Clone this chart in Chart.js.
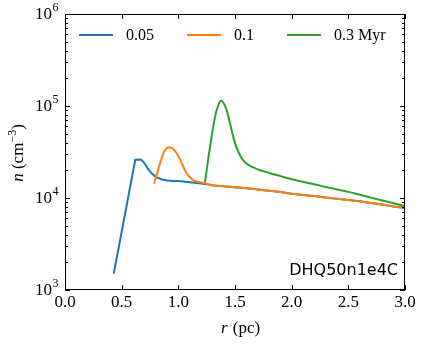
<!DOCTYPE html>
<html>
<head>
<meta charset="utf-8">
<script src="https://cdn.jsdelivr.net/npm/chart.js@4/dist/chart.umd.min.js"></script>
<style>
html,body{margin:0;padding:0;background:#fff;}
canvas{display:block;}
</style>
</head>
<body>
<canvas id="c" width="425" height="346"></canvas>
<script>
// ---- data ----
const seriesLabels = ["0.05", "0.1", "0.3 Myr"];
const r005 = [0.43,0.62,0.67,0.70,0.73,0.76,0.80,0.85,0.90,0.95,1.00,1.10,1.20,1.30,1.40,1.50,1.60,1.70,1.80,1.90,2.00,2.10,2.20,2.30,2.40,2.50,2.60,2.70,2.80,2.90,3.00];
const n005 = [1500,26000,26200,24000,21000,18800,17000,16000,15500,15300,15300,14800,14400,13800,13400,13100,12800,12400,12000,11600,11100,10800,10500,10100,9800,9500,9200,8800,8500,8100,7800];
const r01 = [0.785,0.81,0.838,0.868,0.89,0.912,0.94,0.965,0.985,1.01,1.03,1.05,1.074,1.10,1.13,1.17,1.22,1.30,1.40,1.50,1.60,1.70,1.80,1.90,2.00,2.10,2.20,2.30,2.40,2.50,2.60,2.70,2.80,2.90,3.00];
const n01 = [14400,18000,23800,30600,34000,35600,35000,33000,30600,27000,23800,21000,18500,16900,15700,15000,14600,13700,13400,13100,12800,12400,12000,11600,11100,10800,10500,10100,9800,9500,9200,8800,8500,8100,7750];
const r03 = [1.235,1.28,1.324,1.35,1.376,1.40,1.426,1.45,1.47,1.49,1.515,1.54,1.56,1.58,1.60,1.632,1.66,1.70,1.81,1.90,2.00,2.10,2.20,2.30,2.40,2.50,2.60,2.70,2.80,2.90,3.00];
const n03 = [14800,36100,76600,100000,114000,108000,90600,70000,54800,43650,35100,29850,26900,25000,23700,22400,21500,20500,18600,17300,16000,15000,14100,13200,12400,11650,10850,10100,9400,8750,8150];
const xTicks = [0.0,0.5,1.0,1.5,2.0,2.5,3.0];
const xTickLabels = ["0.0","0.5","1.0","1.5","2.0","2.5","3.0"];
const yTicks = [1e3,1e4,1e5,1e6];
const yTickExponents = ["3","4","5","6"];
const modelName = "DHQ50n1e4C";

const colors = ["#1f77b4","#ff7f0e","#2ca02c"];
const SERIF = '"Liberation Serif", "DejaVu Serif", serif';

function pts(xs, ys){ return xs.map((x,i)=>({x:x, y:ys[i]})); }

const deco = {
  id: 'deco',
  beforeDraw(chart){
    const ctx = chart.ctx;
    ctx.save(); ctx.fillStyle = '#fff'; ctx.fillRect(0,0,chart.width,chart.height); ctx.restore();
  },
  afterDraw(chart){
    const ctx = chart.ctx, a = chart.chartArea, xs = chart.scales.x, ys = chart.scales.y;
    ctx.save();
    ctx.strokeStyle = '#000'; ctx.lineWidth = 1;
    // ticks (inward)
    ctx.beginPath();
    xTicks.forEach(v=>{
      const px = Math.round(xs.getPixelForValue(v)) + 0.5;
      ctx.moveTo(px, a.bottom); ctx.lineTo(px, a.bottom-5);
      ctx.moveTo(px, a.top); ctx.lineTo(px, a.top+5);
    });
    for (let e=3; e<6; e++){
      for (let m=2; m<10; m++){
        const py = Math.round(ys.getPixelForValue(m*Math.pow(10,e))) + 0.5;
        ctx.moveTo(a.left, py); ctx.lineTo(a.left+3, py);
        ctx.moveTo(a.right, py); ctx.lineTo(a.right-3, py);
      }
    }
    yTicks.forEach(v=>{
      const py = Math.round(ys.getPixelForValue(v)) + 0.5;
      ctx.moveTo(a.left, py); ctx.lineTo(a.left+5, py);
      ctx.moveTo(a.right, py); ctx.lineTo(a.right-5, py);
    });
    ctx.stroke();
    // frame
    ctx.strokeRect(Math.round(a.left)+0.5, Math.round(a.top)+0.5, Math.round(a.right-a.left)-1, Math.round(a.bottom-a.top)-1);

    ctx.fillStyle = '#000';
    // x tick labels
    ctx.font = '17px ' + SERIF;
    ctx.textAlign = 'center'; ctx.textBaseline = 'top';
    xTicks.forEach((v,i)=>{
      ctx.fillText(xTickLabels[i], xs.getPixelForValue(v), a.bottom + 4);
    });
    // y tick labels 10^k
    yTicks.forEach((v,i)=>{
      const py = ys.getPixelForValue(v);
      ctx.font = '17px ' + SERIF;
      ctx.textAlign = 'right'; ctx.textBaseline = 'middle';
      ctx.fillText('10', 52, py + 1);
      ctx.font = '12px ' + SERIF;
      ctx.textAlign = 'left';
      ctx.fillText(yTickExponents[i], 52.5, py - 6);
    });
    // x axis title
    ctx.textBaseline = 'alphabetic';
    ctx.font = 'italic 17px ' + SERIF;
    const t1 = 'r'; const w1 = ctx.measureText(t1).width;
    ctx.font = '17px ' + SERIF;
    const t2 = ' (pc)'; const w2 = ctx.measureText(t2).width;
    let x0 = 240 - (w1+w2)/2;
    ctx.textAlign = 'left';
    ctx.font = 'italic 17px ' + SERIF; ctx.fillText(t1, x0, 333);
    ctx.font = '17px ' + SERIF; ctx.fillText(t2, x0 + w1 + 1, 333);
    // y axis title (rotated)
    ctx.save();
    ctx.translate(23, 153);
    ctx.rotate(-Math.PI/2);
    const parts = [
      {t:'n', f:'italic 17px ' + SERIF, dy:0},
      {t:' (cm', f:'17px ' + SERIF, dy:0},
      {t:'\u22123', f:'12px ' + SERIF, dy:-7},
      {t:')', f:'17px ' + SERIF, dy:0}
    ];
    let tw = 0;
    parts.forEach(p=>{ ctx.font = p.f; p.w = ctx.measureText(p.t).width; tw += p.w; });
    let cx = -tw/2;
    ctx.textAlign = 'left'; ctx.textBaseline = 'alphabetic';
    parts.forEach(p=>{ ctx.font = p.f; ctx.fillText(p.t, cx, p.dy); cx += p.w; });
    ctx.restore();
    // legend
    const legX = [79, 187, 287];
    ctx.lineWidth = 2;
    seriesLabels.forEach((lab,i)=>{
      ctx.strokeStyle = colors[i];
      ctx.beginPath(); ctx.moveTo(legX[i], 35); ctx.lineTo(legX[i]+34, 35); ctx.stroke();
      ctx.fillStyle = '#000';
      ctx.font = '16px ' + SERIF; ctx.textAlign = 'left'; ctx.textBaseline = 'middle';
      ctx.fillText(lab, legX[i] + 47, 36);
    });
    // model name
    ctx.font = '16px "DejaVu Sans", sans-serif';
    ctx.textAlign = 'right'; ctx.textBaseline = 'alphabetic';
    ctx.fillText(modelName, 398, 275);
    ctx.restore();
  }
};

new Chart(document.getElementById('c'), {
  type: 'line',
  data: {
    datasets: [
      {label: seriesLabels[0], data: pts(r005, n005), borderColor: colors[0], borderWidth: 2, pointRadius: 0, tension: 0, order: 3},
      {label: seriesLabels[1], data: pts(r01, n01), borderColor: colors[1], borderWidth: 2, pointRadius: 0, cubicInterpolationMode: 'monotone', order: 2},
      {label: seriesLabels[2], data: pts(r03, n03), borderColor: colors[2], borderWidth: 2, pointRadius: 0, cubicInterpolationMode: 'monotone', order: 1}
    ]
  },
  options: {
    responsive: false,
    animation: false,
    devicePixelRatio: 1,
    layout: {padding: {top: 14, right: 20, left: 0, bottom: 0}},
    plugins: {legend: {display: false}, tooltip: {enabled: false}},
    scales: {
      x: {type: 'linear', min: 0, max: 3, grid: {display: false}, border: {display: false}, ticks: {display: false},
          afterFit(s){ s.height = 56; }},
      y: {type: 'logarithmic', min: 1000, max: 1000000, grid: {display: false}, border: {display: false}, ticks: {display: false},
          afterFit(s){ s.width = 65; }}
    }
  },
  plugins: [deco]
});
</script>
</body>
</html>
